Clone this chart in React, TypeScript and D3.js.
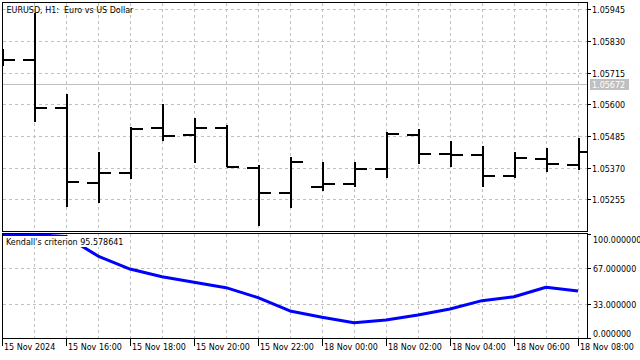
import React from "react";
import * as d3 from "d3";

// ---- data ----
const times = [
  "15 Nov 14:00", "15 Nov 15:00", "15 Nov 16:00", "15 Nov 17:00", "15 Nov 18:00",
  "15 Nov 19:00", "15 Nov 20:00", "15 Nov 21:00", "15 Nov 22:00", "15 Nov 23:00",
  "18 Nov 00:00", "18 Nov 01:00", "18 Nov 02:00", "18 Nov 03:00", "18 Nov 04:00",
  "18 Nov 05:00", "18 Nov 06:00", "18 Nov 07:00", "18 Nov 08:00",
];
const opens = [1.05775, 1.05761, 1.05586, 1.05315, 1.05352, 1.05515, 1.0549, 1.05515, 1.0537, 1.05279,
  1.05301, 1.05312, 1.05365, 1.0549, 1.05421, 1.05415, 1.0534, 1.05402, 1.05378];
const highs = [1.058, 1.05932, 1.05636, 1.05426, 1.05516, 1.056, 1.05551, 1.05525, 1.0538, 1.05408,
  1.05389, 1.05389, 1.05498, 1.0551, 1.05467, 1.05449, 1.05426, 1.0544, 1.05477];
const lows = [1.0574, 1.05537, 1.05228, 1.05243, 1.05328, 1.05468, 1.05386, 1.05373, 1.05159, 1.05225,
  1.05286, 1.05301, 1.05331, 1.05384, 1.05373, 1.05301, 1.05333, 1.05353, 1.05361];
const closes = [1.05761, 1.05586, 1.05319, 1.05352, 1.0551, 1.05486, 1.05515, 1.05372, 1.05279, 1.05392,
  1.05312, 1.05365, 1.05491, 1.05421, 1.05415, 1.0534, 1.05405, 1.05382, 1.05428];
const kendall = [99.5, 99.3, 97.7, 78.8, 66.3, 58.9, 53.6, 48.4, 38.8, 26.0,
  19.9, 14.7, 17.3, 22.1, 27.9, 35.9, 39.7, 48.8, 45.2];

const priceTicks = [1.05945, 1.0583, 1.05715, 1.056, 1.05485, 1.0537, 1.05255];
const indTicks = [100, 67, 33, 0];
const indTickLabels = ["100.000000", "67.000000", "33.000000", "0.000000"];
const timeLabelIdx = [0, 2, 4, 6, 8, 10, 12, 14, 16, 18];
const timeLabels = ["15 Nov 2024", "15 Nov 16:00", "15 Nov 18:00", "15 Nov 20:00", "15 Nov 22:00",
  "18 Nov 00:00", "18 Nov 02:00", "18 Nov 04:00", "18 Nov 06:00", "18 Nov 08:00"];
const currentPrice = 1.05672;
const title = "EURUSD, H1:  Euro vs US Dollar";
const indName = "Kendall's criterion 95.578641";

export default function App() {
  const W = 640, H = 360;
  const L = 2.5, R = 587.5;
  const mT = 2.5, mB = 231.5;
  const iT = 233.5, iB = 338.5;
  const font = "'DejaVu Sans', sans-serif";
  const fs = 8;
  const grid = "#c0c0c0";

  const x = d3.scaleLinear().domain([0, times.length - 1]).range([2, 578]);
  const y = d3.scaleLinear().domain([1.05255, 1.05945]).range([199.3, 9.3]);
  const yi = d3.scaleLinear().domain([0, 100]).range([338, 234]);

  const r = (v: number) => Math.round(v);
  const line = d3.line<number>().x((_, i) => x(i)).y((d) => yi(d)).curve(d3.curveLinear);

  const tickLen = 12;

  return (
    <svg width={W} height={H} style={{ position: "absolute", left: 0, top: 0, background: "#fff" }}
      fontFamily={font} fontSize={fs}>
      <defs>
        <clipPath id="mainClip"><rect x={L} y={mT} width={R - L} height={mB - mT} /></clipPath>
        <clipPath id="indClip"><rect x={L} y={iT + 0.5} width={R - L} height={iB - iT - 0.5} /></clipPath>
      </defs>
      <rect x={0} y={0} width={W} height={H} fill="#fff" />

      {/* main grid */}
      <g stroke={grid} strokeDasharray="3,3" shapeRendering="crispEdges">
        {times.map((_, i) => i > 0 && (
          <line key={"vg" + i} x1={x(i) + 0.5} x2={x(i) + 0.5} y1={mT} y2={mB} />
        ))}
        {priceTicks.map((p) => (
          <line key={"hg" + p} x1={L} x2={R} y1={r(y(p)) + 0.5} y2={r(y(p)) + 0.5} />
        ))}
        {times.map((_, i) => i > 0 && (
          <line key={"ivg" + i} x1={x(i) + 0.5} x2={x(i) + 0.5} y1={iT} y2={iB} />
        ))}
        {indTicks.filter((v) => v > 0 && v < 100).map((v) => (
          <line key={"ihg" + v} x1={L} x2={R} y1={r(yi(v)) + 0.5} y2={r(yi(v)) + 0.5} />
        ))}
      </g>

      {/* current price line */}
      <line x1={L} x2={R} y1={r(y(currentPrice)) + 0.5} y2={r(y(currentPrice)) + 0.5}
        stroke="#c0c0c0" shapeRendering="crispEdges" />

      {/* OHLC bars */}
      <g clipPath="url(#mainClip)" fill="#000" shapeRendering="crispEdges">
        {times.map((t, i) => {
          const cx = x(i);
          const yh = r(y(highs[i])), yl = r(y(lows[i]));
          const yo = r(y(opens[i])), yc = r(y(closes[i]));
          return (
            <g key={"bar" + i}>
              <rect x={cx} y={yh} width={2} height={Math.max(yl - yh, 2)} />
              <rect x={cx - tickLen + 1} y={yo - 1} width={tickLen} height={2} />
              <rect x={cx + 1} y={yc - 1} width={tickLen} height={2} />
            </g>
          );
        })}
      </g>

      {/* indicator line */}
      <g clipPath="url(#indClip)">
        <path d={line(kendall) || ""} fill="none" stroke="#0000ff" strokeWidth={3} strokeLinejoin="round" />
      </g>

      {/* panels borders */}
      <g fill="none" stroke="#000" shapeRendering="crispEdges">
        <rect x={L} y={mT} width={R - L} height={mB - mT} />
        <rect x={L} y={iT} width={R - L} height={iB - iT} />
      </g>

      {/* title */}
      <text x={6.5} y={12.5} fill="#000" style={{ whiteSpace: "pre" }}>{title}</text>

      {/* indicator label with background */}
      <rect x={4} y={236} width={118} height={11} fill="#fff" />
      <text x={6} y={244.5} fill="#000">{indName}</text>

      {/* right price axis */}
      <g shapeRendering="crispEdges">
        {priceTicks.map((p) => (
          <g key={"pt" + p}>
            <line x1={R} x2={591} y1={r(y(p)) + 0.5} y2={r(y(p)) + 0.5} stroke="#000" />
            <text x={592} y={r(y(p)) + 3.5} fill="#000">{p.toFixed(5)}</text>
          </g>
        ))}
      </g>
      <rect x={590} y={79} width={39} height={11} fill="#c0c0c0" />
      <text x={592} y={r(y(currentPrice)) + 3.5} fill="#fff">{currentPrice.toFixed(5)}</text>

      {/* indicator right axis */}
      {indTicks.map((v, k) => {
        const ty = r(yi(v)) + 0.5;
        const ly = Math.min(Math.max(ty, iT + 6), iB - 4.5);
        return (
          <g key={"it" + v}>
            <line x1={R} x2={591} y1={ty} y2={ty} stroke="#000" shapeRendering="crispEdges" />
            <text x={593} y={ly + 3} fill="#000">{indTickLabels[k]}</text>
          </g>
        );
      })}

      {/* bottom time axis */}
      {timeLabelIdx.map((idx, k) => (
        <g key={"tl" + idx}>
          <line x1={x(idx) + 0.5} x2={x(idx) + 0.5} y1={iB} y2={346} stroke="#000" shapeRendering="crispEdges" />
          <text x={x(idx) + 2} y={349.5} fill="#000">{timeLabels[k]}</text>
        </g>
      ))}
    </svg>
  );
}
